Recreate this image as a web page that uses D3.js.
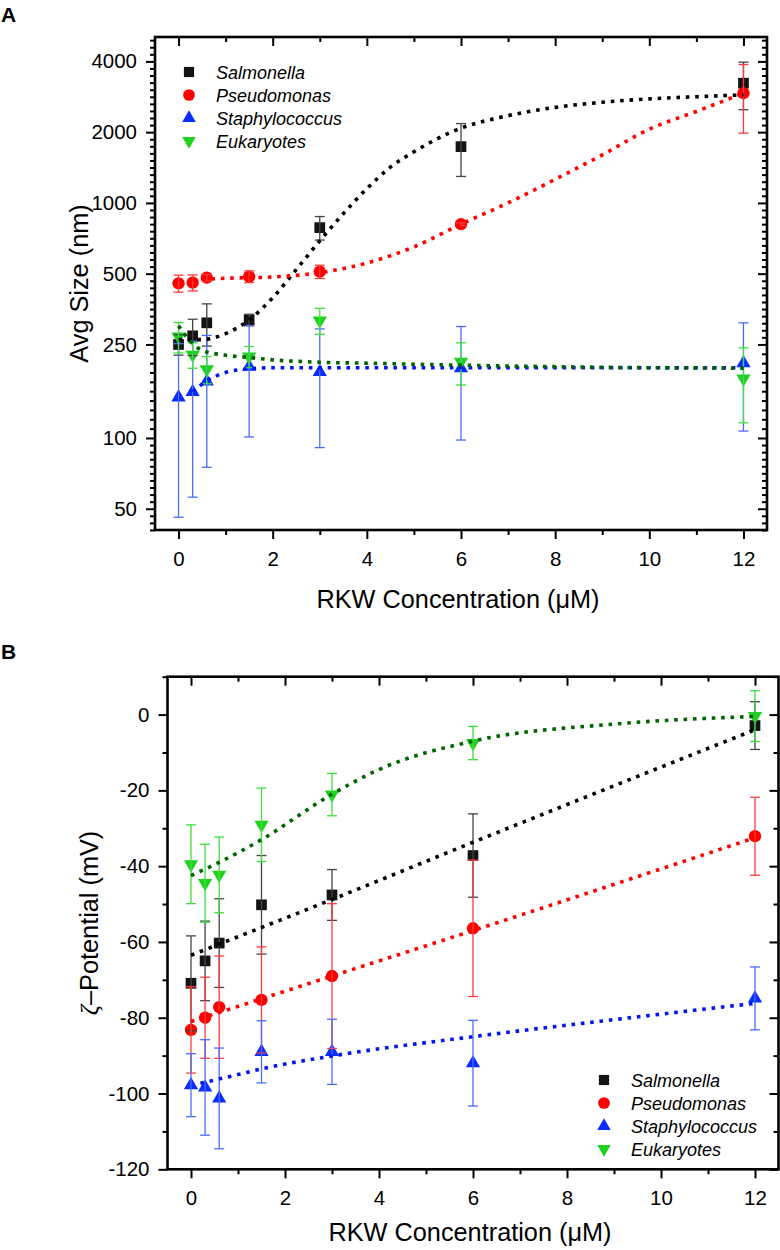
<!DOCTYPE html>
<html>
<head>
<meta charset="utf-8">
<script src="https://cdn.jsdelivr.net/npm/d3@7"></script>
<style>
  body { margin: 0; background: #fff; }
  svg { display: block; font-family: "Liberation Sans", Arial, sans-serif; }
</style>
</head>
<body>
<div id="chart"></div>
<script>
// RKW concentrations (uM), same for every series
var conc = [0, 0.3, 0.6, 1.5, 3, 6, 12];
var species = ["Salmonella", "Pseudomonas", "Staphylococcus", "Eukaryotes"];

// Panel A - average size (nm), mean and sd
var sizeSal    = [250, 272, 309, 318, 785, 1736, 3231];
var sizeSalSd  = [25, 48, 63, 18, 90, 440, 740];
var sizePse    = [455, 458, 481, 486, 510, 812, 2930];
var sizePseSd  = [38, 36, 15, 28, 33, 10, 950];
var sizeSta    = [149, 157, 174, 201, 191, 198, 208];
var sizeStaSd  = [103, 101, 99, 100, 100, 100, 101];
var sizeEuk    = [270, 226, 196, 222, 316, 211, 179];
var sizeEukSd  = [40, 28, 26, 23, 40, 43, 63];

// Panel A - fitted curves
var sizeFitSal = [[0, 262], [0.5, 262], [1, 278], [1.5, 318], [2, 395], [2.5, 520], [3, 690], [3.5, 900],
                  [4, 1150], [4.5, 1420], [5, 1650], [6, 2080], [7, 2350], [8, 2550], [9, 2680], [10, 2770], [11, 2830], [12, 2880]];
var sizeFitPse = [[0.3, 470], [1, 478], [2, 484], [3, 505], [4, 555], [5, 650], [6, 812], [7, 1000],
                  [8, 1260], [9, 1600], [10, 2060], [11, 2450], [12, 2930]];
var sizeFitSta = [[0.3, 157], [0.6, 175], [1, 190], [1.5, 197], [2, 199], [3, 199], [6, 199], [12, 199]];
var sizeFitEuk = [[0, 300], [0.25, 258], [0.5, 236], [1, 225], [1.5, 220], [2, 215], [3, 210], [4, 208],
                  [6, 204], [8, 201], [10, 199], [12, 198]];

// Panel B - zeta potential (mV), mean and sd
var zetaSal    = [-70.9, -65.0, -60.3, -50.2, -47.6, -37.2, -2.9];
var zetaSalSd  = [12.5, 10.5, 11.7, 13, 6.7, 11, 6.3];
var zetaPse    = [-83.2, -80.0, -77.2, -75.3, -69.0, -56.4, -32.1];
var zetaPseSd  = [11.4, 10.7, 13.5, 14, 19.1, 18, 10.3];
var zetaSta    = [-97.8, -98.4, -101.3, -89.0, -89.0, -92.0, -74.9];
var zetaStaSd  = [8.3, 12.6, 13.3, 8.2, 8.6, 11.3, 8.3];
var zetaEuk    = [-39.5, -44.5, -42.3, -29.1, -21.1, -7.5, -0.4];
var zetaEukSd  = [10.4, 10.3, 10, 9.7, 5.6, 4.4, 6.7];

// Panel B - fitted lines
var zetaFitSal = [[0, -63.5], [3, -48.8], [6, -33.7], [12, -4]];
var zetaFitPse = [[0, -81], [3, -69], [6, -57], [12, -32.5]];
var zetaFitSta = [[0.2, -97.3], [1, -95], [1.5, -93.5], [3, -90.1], [6, -85], [9, -80.5], [12, -76.2]];
var zetaFitEuk = [[0, -42.5], [0.6, -39], [1.5, -33], [3, -21], [4, -14.5], [6, -7], [9, -2.5], [12, -0.5]];

// tick labels
var concTicks = [0, 2, 4, 6, 8, 10, 12];
var concMinor = [1, 3, 5, 7, 9, 11];
var sizeTicks = [50, 100, 250, 500, 1000, 2000, 4000];
var zetaTicks = [-120, -100, -80, -60, -40, -20, 0];
var zetaMinor = [-110, -90, -70, -50, -30, -10, 10];

// look of each series
var markerColor = ["#141414", "#ff0000", "#0a2cff", "#1ed21e"];
var errColor    = ["#444444", "#ff3b3b", "#4a6dff", "#3ee03e"];
var fitColor    = ["#000000", "#ff0000", "#0018f0", "#006400"];
var shapes      = [d3.symbolSquare, d3.symbolCircle, d3.symbolTriangle, d3.symbolTriangle];
var shapeSize   = [115, 120, 88, 88];
var shapeRot    = [0, 0, 0, 180];

var svg = d3.select("#chart").append("svg")
    .attr("width", 780)
    .attr("height", 1250);

function drawPanel(p) {
    var x = p.x, y = p.y;
    var g = svg.append("g");
    var x0 = x.range()[0], x1 = x.range()[1];
    var y0 = y.range()[0], y1 = y.range()[1];

    // axes: left/bottom outward with labels, top/right inward
    g.append("g").attr("transform", "translate(" + x0 + ",0)")
        .call(d3.axisLeft(y).tickValues(p.yTicks).tickSize(9).tickPadding(9).tickFormat(d => d));
    g.append("g").attr("transform", "translate(" + x0 + ",0)")
        .call(d3.axisLeft(y).tickValues(p.yMinor).tickSize(5).tickFormat(""));
    g.append("g").attr("transform", "translate(" + x1 + ",0)")
        .call(d3.axisLeft(y).tickValues(p.yTicks).tickSize(9).tickFormat(""));
    g.append("g").attr("transform", "translate(" + x1 + ",0)")
        .call(d3.axisLeft(y).tickValues(p.yMinor).tickSize(5).tickFormat(""));

    g.append("g").attr("transform", "translate(0," + y0 + ")")
        .call(d3.axisBottom(x).tickValues(concTicks).tickSize(9).tickPadding(12));
    g.append("g").attr("transform", "translate(0," + y0 + ")")
        .call(d3.axisBottom(x).tickValues(concMinor).tickSize(5).tickFormat(""));
    g.append("g").attr("transform", "translate(0," + y1 + ")")
        .call(d3.axisBottom(x).tickValues(concTicks).tickSize(9).tickFormat(""));
    g.append("g").attr("transform", "translate(0," + y1 + ")")
        .call(d3.axisBottom(x).tickValues(concMinor).tickSize(5).tickFormat(""));

    g.selectAll(".domain").remove();
    g.selectAll(".tick line").attr("stroke", "#000").attr("stroke-width", 2);
    g.selectAll(".tick text")
        .attr("font-family", "Liberation Sans, Arial, sans-serif")
        .attr("font-size", "20.5px")
        .attr("fill", "#000");

    // frame
    g.append("rect")
        .attr("x", x0).attr("y", y1)
        .attr("width", x1 - x0).attr("height", y0 - y1)
        .attr("fill", "none").attr("stroke", "#000").attr("stroke-width", 2.6);

    var plot = g.append("g");

    // markers
    p.series.forEach(function(s, i) {
        plot.append("g").selectAll("path")
            .data(conc.map((c, k) => ({ c: c, v: s.mean[k] })))
            .enter().append("path")
            .attr("d", d3.symbol().type(shapes[i]).size(shapeSize[i]))
            .attr("transform", d => "translate(" + x(d.c) + "," + y(d.v) + ") rotate(" + shapeRot[i] + ")")
            .attr("fill", markerColor[i]);
    });

    // error bars
    p.series.forEach(function(s, i) {
        var eb = plot.append("g")
            .attr("stroke", errColor[i]).attr("stroke-width", 1.3)
            .selectAll("g")
            .data(conc.map((c, k) => ({ c: c, lo: s.mean[k] - s.sd[k], hi: s.mean[k] + s.sd[k] })))
            .enter().append("g");
        eb.append("line")
            .attr("x1", d => x(d.c)).attr("x2", d => x(d.c))
            .attr("y1", d => y(d.lo)).attr("y2", d => y(d.hi));
        eb.append("line")
            .attr("x1", d => x(d.c) - 5).attr("x2", d => x(d.c) + 5)
            .attr("y1", d => y(d.lo)).attr("y2", d => y(d.lo));
        eb.append("line")
            .attr("x1", d => x(d.c) - 5).attr("x2", d => x(d.c) + 5)
            .attr("y1", d => y(d.hi)).attr("y2", d => y(d.hi));
    });

    // dotted fit curves
    var line = d3.line()
        .x(d => x(d[0]))
        .y(d => y(d[1]))
        .curve(d3.curveMonotoneX);
    p.series.forEach(function(s, i) {
        plot.append("path")
            .attr("d", line(s.fit))
            .attr("fill", "none")
            .attr("stroke", fitColor[i])
            .attr("stroke-width", 3.6)
            .attr("stroke-dasharray", "3.6,5.8");
    });

    // legend
    var lg = g.append("g").attr("transform", "translate(" + p.legend[0] + "," + p.legend[1] + ")");
    species.forEach(function(name, i) {
        var row = lg.append("g").attr("transform", "translate(0," + (i * 23) + ")");
        row.append("path")
            .attr("d", d3.symbol().type(shapes[i]).size(shapeSize[i] * 0.9))
            .attr("transform", "rotate(" + shapeRot[i] + ")")
            .attr("fill", markerColor[i]);
        row.append("text")
            .attr("x", 27).attr("y", 6.5)
            .attr("font-size", "18px")
            .attr("font-style", "italic")
            .text(name);
    });

    // axis titles
    g.append("text")
        .attr("x", (x0 + x1) / 2 - 3).attr("y", p.xTitleY)
        .attr("text-anchor", "middle")
        .attr("font-size", "25.3px")
        .text("RKW Concentration (\u03bcM)");

    var yt = g.append("text")
        .attr("transform", "translate(" + p.yTitleX + "," + (y0 + y1) / 2 + ") rotate(-90)")
        .attr("text-anchor", "middle")
        .attr("font-size", "25.3px");
    p.yTitle(yt);

    // panel letter
    svg.append("text")
        .attr("x", 1).attr("y", p.letterY)
        .attr("font-size", "21px").attr("font-weight", "bold")
        .text(p.letter);
}

// minor ticks on the log axis: 9 evenly (in log) between the labelled ticks
function logMinor(ticks, lo, hi) {
    var out = [];
    for (var i = 0; i < ticks.length - 1; i++) {
        var a = Math.log10(ticks[i]), b = Math.log10(ticks[i + 1]);
        for (var k = 1; k < 10; k++) out.push(Math.pow(10, a + (b - a) * k / 10));
    }
    var stepLo = Math.log10(ticks[1] / ticks[0]) / 10;
    for (var v = Math.log10(ticks[0]) - stepLo; v > Math.log10(lo); v -= stepLo) out.push(Math.pow(10, v));
    var n = ticks.length;
    var stepHi = Math.log10(ticks[n - 1] / ticks[n - 2]) / 10;
    for (var w = Math.log10(ticks[n - 1]) + stepHi; w < Math.log10(hi); w += stepHi) out.push(Math.pow(10, w));
    return out;
}

drawPanel({
    letter: "A", letterY: 22,
    x: d3.scaleLinear().domain([-0.5, 12.5]).range([155, 767]),
    y: d3.scaleLog().domain([40.6, 5080]).range([530, 37]),
    yTicks: sizeTicks,
    yMinor: logMinor(sizeTicks, 40.6, 5080),
    series: [
        { mean: sizeSal, sd: sizeSalSd, fit: sizeFitSal },
        { mean: sizePse, sd: sizePseSd, fit: sizeFitPse },
        { mean: sizeSta, sd: sizeStaSd, fit: sizeFitSta },
        { mean: sizeEuk, sd: sizeEukSd, fit: sizeFitEuk }
    ],
    legend: [189, 72],
    xTitleY: 608,
    yTitleX: 88,
    yTitle: t => t.text("Avg Size (nm)")
});

drawPanel({
    letter: "B", letterY: 659,
    x: d3.scaleLinear().domain([-0.5, 12.5]).range([167.5, 778.5]),
    y: d3.scaleLinear().domain([-120, 10]).range([1169.3, 676.7]),
    yTicks: zetaTicks,
    yMinor: zetaMinor,
    series: [
        { mean: zetaSal, sd: zetaSalSd, fit: zetaFitSal },
        { mean: zetaPse, sd: zetaPseSd, fit: zetaFitPse },
        { mean: zetaSta, sd: zetaStaSd, fit: zetaFitSta },
        { mean: zetaEuk, sd: zetaEukSd, fit: zetaFitEuk }
    ],
    legend: [604, 1080],
    xTitleY: 1241,
    yTitleX: 98,
    yTitle: function(t) {
        t.append("tspan").attr("font-family", "Liberation Serif, serif").attr("font-style", "italic").text("\u03b6");
        t.append("tspan").text("\u2013Potential (mV)");
    }
});
</script>
</body>
</html>
